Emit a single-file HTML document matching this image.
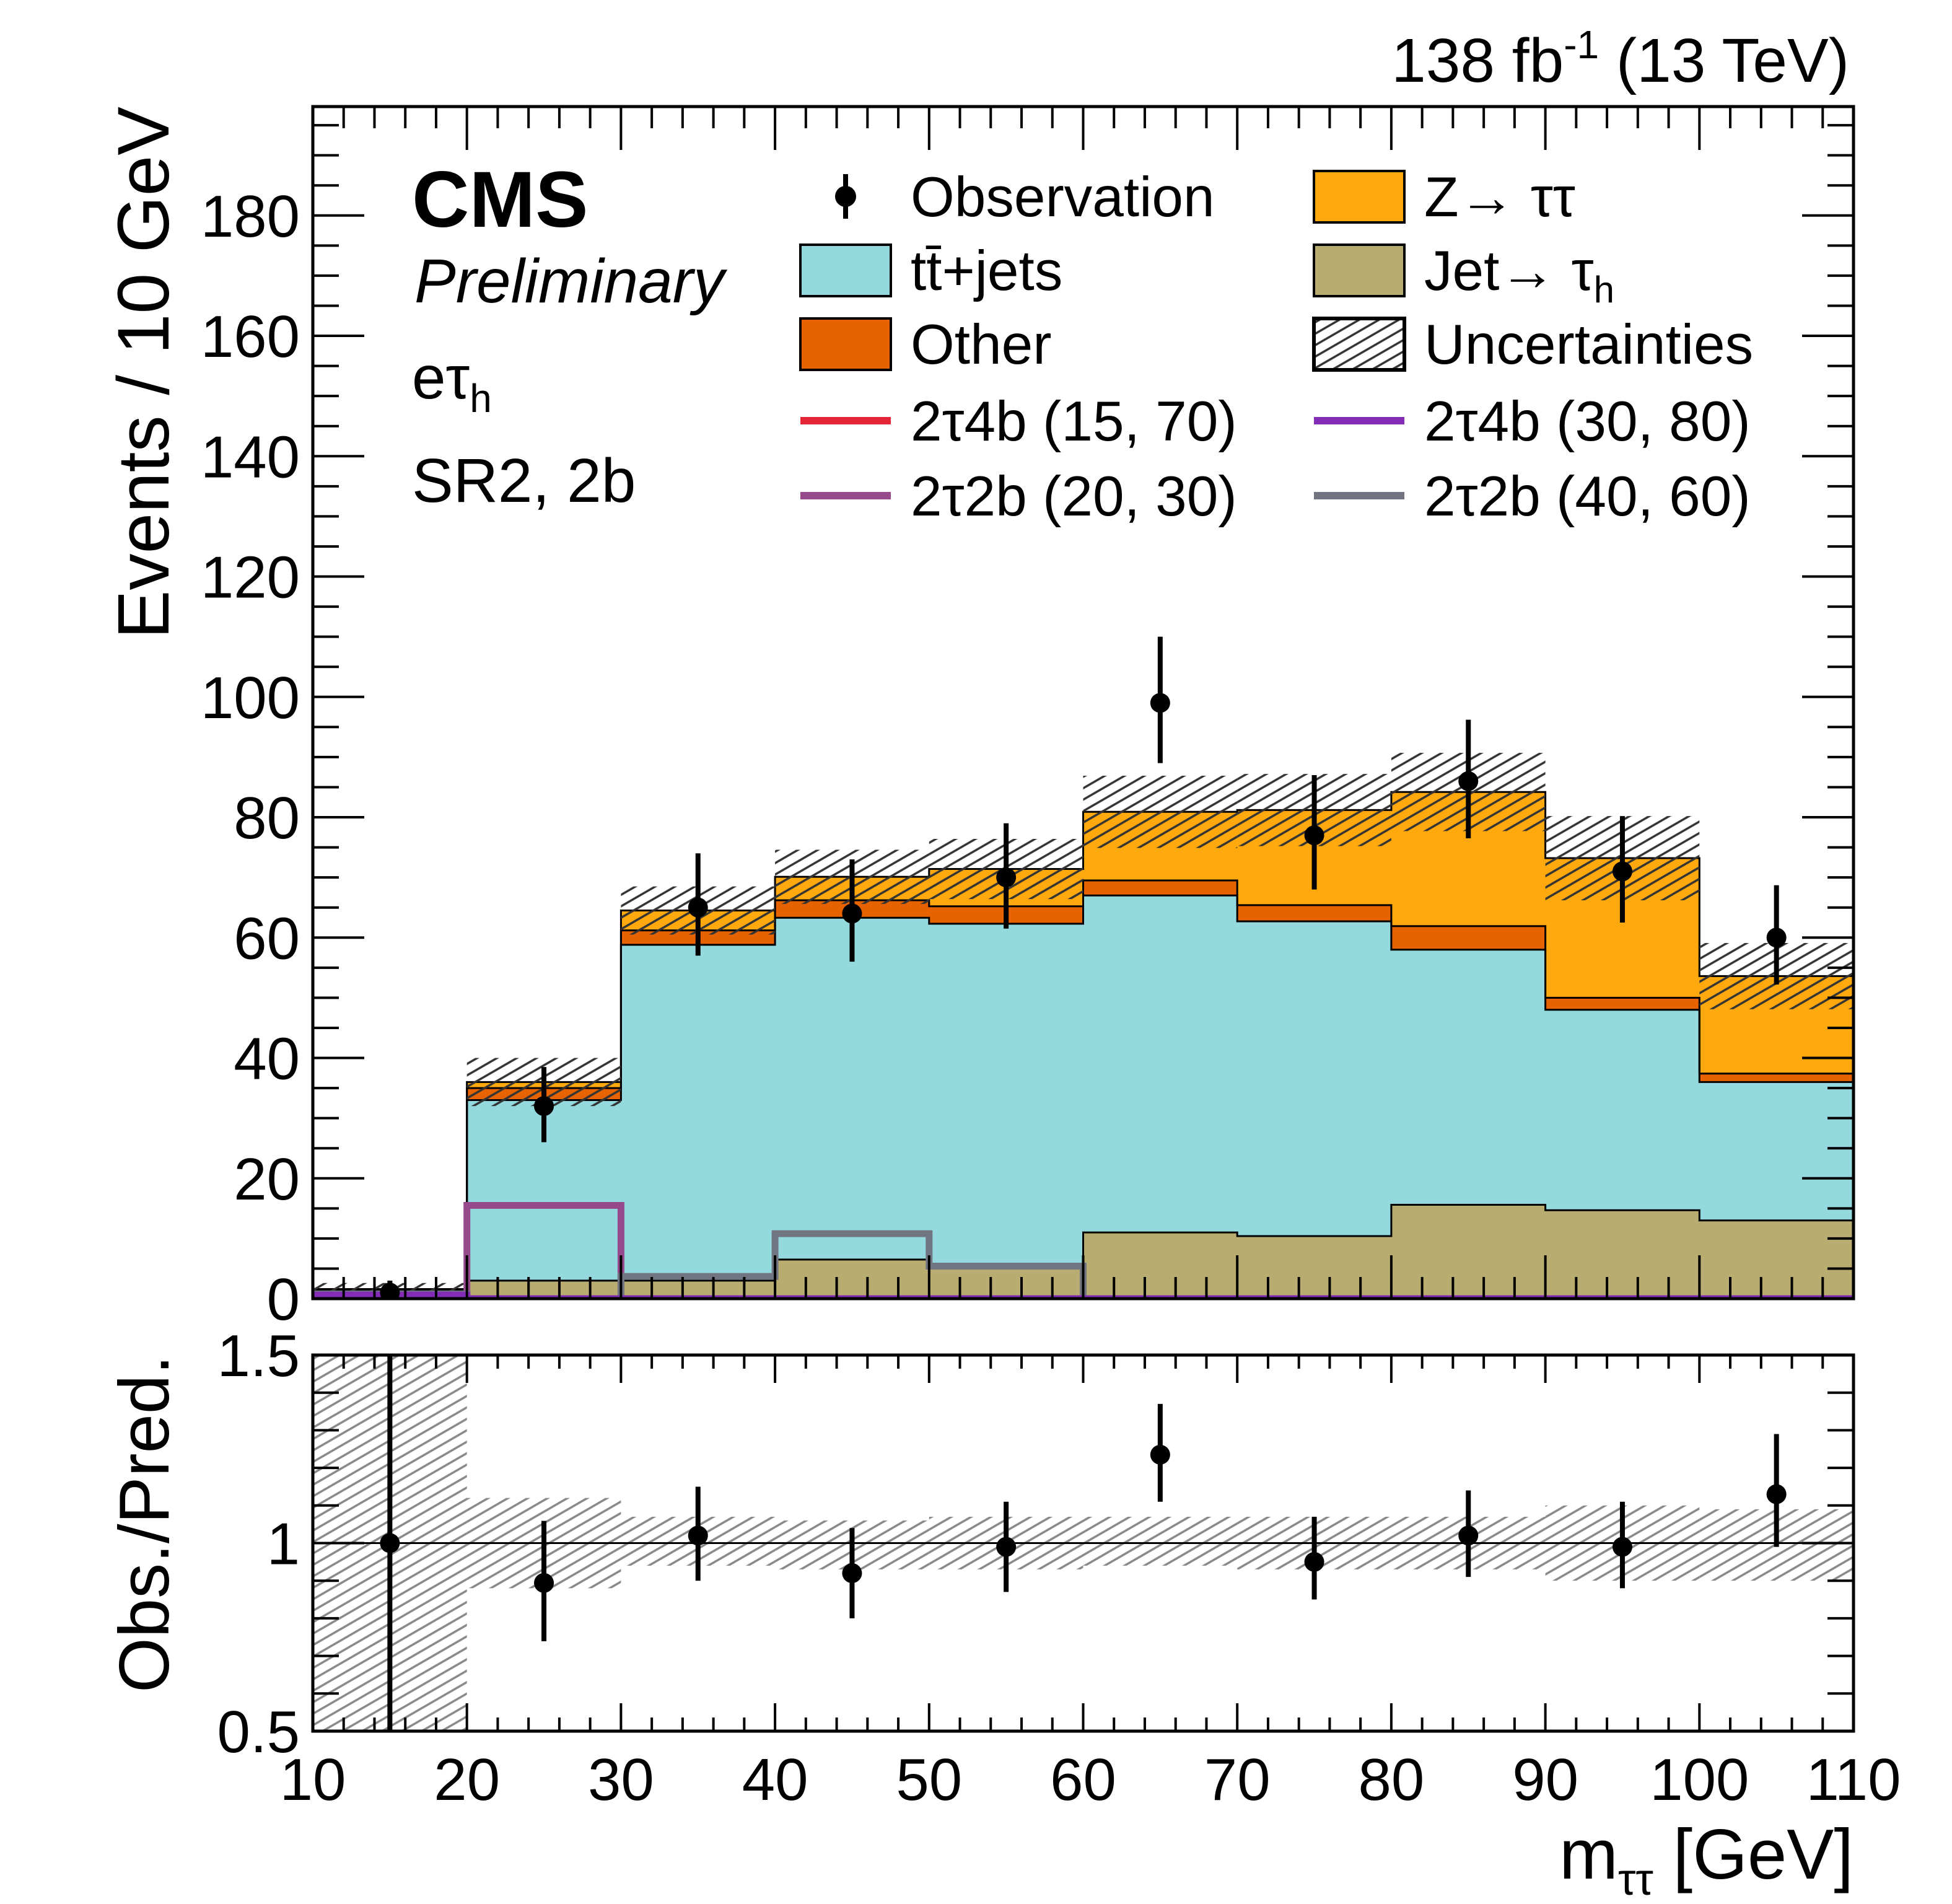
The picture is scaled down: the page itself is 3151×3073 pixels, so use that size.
<!DOCTYPE html>
<html><head><meta charset="utf-8"><style>
html,body{margin:0;padding:0;background:#fff;}
svg{display:block;font-family:"Liberation Sans",sans-serif;}
</style></head><body>
<svg id="chart" width="3151" height="3073" viewBox="0 0 3151 3073" xmlns="http://www.w3.org/2000/svg">
<defs>
<pattern id="hatch" patternUnits="userSpaceOnUse" width="16" height="16" patternTransform="rotate(-30)">
<rect width="16" height="16" fill="none"/><line x1="0" y1="8" x2="16" y2="8" stroke="#333" stroke-width="3.5"/>
</pattern>
<pattern id="hatch2" patternUnits="userSpaceOnUse" width="16" height="16" patternTransform="rotate(-30)">
<line x1="0" y1="8" x2="16" y2="8" stroke="#888" stroke-width="3.5"/>
</pattern>
<clipPath id="mainclip"><rect x="505" y="172" width="2487" height="1924"/></clipPath>
<clipPath id="ratioclip"><rect x="505" y="2187" width="2487" height="607"/></clipPath>
</defs>
<g id="main" clip-path="url(#mainclip)"></g>
<g id="ratio" clip-path="url(#ratioclip)"></g>
<g id="axes"></g>
<text x="2985" y="132" font-size="100" text-anchor="end">138 fb<tspan font-size="64" dy="-38">-1</tspan><tspan dy="38"> (13 TeV)</tspan></text>
<text x="665" y="366" font-size="128" font-weight="bold">CMS</text>
<text x="669" y="488" font-size="100" font-style="italic">Preliminary</text>
<text x="665" y="643" font-size="98">eτ<tspan font-size="64" dy="22">h</tspan></text>
<text x="665" y="810" font-size="100">SR2, 2b</text>
<text transform="translate(272,172) rotate(-90)" font-size="118" text-anchor="end">Events / 10 GeV</text>
<text transform="translate(272,2187) rotate(-90)" font-size="114" text-anchor="end">Obs./Pred.</text>
<text x="2992" y="3032" font-size="114" text-anchor="end">m<tspan font-size="72" dy="26">ττ</tspan><tspan dy="-26"> [GeV]</tspan></text>
<g id="legend"></g>
</svg>
<script>
const binEdges = [10,20,30,40,50,60,70,80,90,100,110];
const jetFake = [0.5,3,3,6.5,5,11,10.4,15.6,14.7,13];
const ttbar = [0.5,30,55.8,56.8,57.3,56,52.3,42.4,33.3,23];
const other = [0.3,2,2.4,2.9,2.9,2.5,2.7,3.9,2,1.4];
const ztt = [0.3,1,3.3,3.9,6.2,11.4,15.8,22.3,23.2,16.2];
const uncert = [1,4,4,4.5,5,6,6,6.5,7,5.5];
const obsVals = [1,32,65,64,70,99,77,86,71,60];
const obsErrLo = [1,6,8,8,8.5,10,9,9.5,8.5,7.8];
const obsErrHi = [2,6.5,9,9,9,11,10,10.2,9.2,8.7];
const sig2t2b2030 = [0,15.5,0,0,0,0,0,0,0,0];
const sig2t2b4060 = [0.8,0,3.7,10.8,5.4,0,0,0,0,0];
const sig2t4b3080 = [0.6,0,0,0,0,0,0,0,0,0];
const sig2t4b1570 = [0,0,0,0,0,0,0,0,0,0];
const ratioVals = [1.0,0.894,1.02,0.92,0.99,1.235,0.95,1.02,0.99,1.13];
const ratioErrLo = [0.5,0.155,0.12,0.12,0.12,0.125,0.1,0.11,0.11,0.14];
const ratioErrHi = [0.5,0.165,0.13,0.12,0.12,0.135,0.12,0.12,0.12,0.16];
const ratioBandLo = [0.5,0.88,0.94,0.93,0.93,0.94,0.93,0.93,0.9,0.9];
const ratioBandHi = [1.5,1.12,1.07,1.06,1.07,1.07,1.07,1.07,1.1,1.09];
const yTicks = [0,20,40,60,80,100,120,140,160,180];
const xTicks = [10,20,30,40,50,60,70,80,90,100,110];
const rTicks = [0.5,1,1.5];
const rTickLabels = ["0.5","1","1.5"];

const NS="http://www.w3.org/2000/svg";
const X0=505,X1=2992,Y0=2096,Y1=172,RY0=2794,RY1=2187;
const YMAX=198.1;
const xs=v=>X0+(v-10)/100*(X1-X0);
const ys=v=>Y0-v/YMAX*(Y0-Y1);
const rs=v=>RY0-(v-0.5)/1.0*(RY0-RY1);
function mk(tag,attrs,parent){const e=document.createElementNS(NS,tag);for(const k in attrs)e.setAttribute(k,attrs[k]);parent.appendChild(e);return e;}
const gMain=document.getElementById('main'),gRatio=document.getElementById('ratio'),gAx=document.getElementById('axes'),gLeg=document.getElementById('legend');

function stepPath(arr){
  let d='M'+xs(binEdges[0])+','+ys(0);
  for(let i=0;i<10;i++){d+=' L'+xs(binEdges[i])+','+ys(arr[i])+' L'+xs(binEdges[i+1])+','+ys(arr[i]);}
  d+=' L'+xs(binEdges[10])+','+ys(0);
  return d;
}
// stacks
const layers=[[jetFake,'#b9ac70','jet-fake'],[ttbar,'#94d9de','ttbar'],[other,'#e76300','other'],[ztt,'#ffa90e','ztautau']];
const cum=new Array(10).fill(0);
const tops=[];
layers.forEach(([arr,col,nm])=>{
  for(let i=0;i<10;i++){
    const lo=cum[i],hi=cum[i]+arr[i];
    const r=mk('rect',{x:xs(binEdges[i]),y:ys(hi),width:xs(binEdges[i+1])-xs(binEdges[i])+0.5,height:ys(lo)-ys(hi),fill:col},gMain);
    
    
    cum[i]=hi;
  }
  tops.push(cum.slice());
});
tops.forEach((t,k)=>{
  const p=mk('path',{d:stepPath(t),fill:'none',stroke:'#000','stroke-width':3},gMain);
  
  
});
// uncertainty band
for(let i=0;i<10;i++){
  const r=mk('rect',{x:xs(binEdges[i]),y:ys(cum[i]+uncert[i]),width:xs(binEdges[i+1])-xs(binEdges[i]),height:ys(cum[i]-uncert[i])-ys(cum[i]+uncert[i]),fill:'url(#hatch)'},gMain);
  
  
}
// signals
function stepLine(arr,col,nm){
  let d='M'+xs(binEdges[0])+','+ys(arr[0]);
  for(let i=0;i<10;i++){d+=' L'+xs(binEdges[i])+','+ys(arr[i])+' L'+xs(binEdges[i+1])+','+ys(arr[i]);}
  const p=mk('path',{d:d,fill:'none',stroke:col,'stroke-width':11},gMain);
  
  
}
stepLine(sig2t4b1570,'#e42536','signal-2t4b-15-70');
stepLine(sig2t2b2030,'#964a8b','signal-2t2b-20-30');
stepLine(sig2t2b4060,'#717581','signal-2t2b-40-60');
stepLine(sig2t4b3080,'#832db6','signal-2t4b-30-80');
// observation
for(let i=0;i<10;i++){
  const cx=xs((binEdges[i]+binEdges[i+1])/2);
  const l=mk('line',{x1:cx,x2:cx,y1:ys(obsVals[i]-obsErrLo[i]),y2:ys(obsVals[i]+obsErrHi[i]),stroke:'#000','stroke-width':8},gMain);
  
  
  const c=mk('circle',{cx:cx,cy:ys(obsVals[i]),r:16,fill:'#000'},gMain);
  
  
}
// ratio
for(let i=0;i<10;i++){
  const r=mk('rect',{x:xs(binEdges[i]),y:rs(ratioBandHi[i]),width:xs(binEdges[i+1])-xs(binEdges[i]),height:rs(ratioBandLo[i])-rs(ratioBandHi[i]),fill:'url(#hatch2)'},gRatio);
  
  
}
const ref=mk('line',{x1:X0,x2:X1,y1:rs(1),y2:rs(1),stroke:'#000','stroke-width':3},gRatio);


for(let i=0;i<10;i++){
  const cx=xs((binEdges[i]+binEdges[i+1])/2);
  const l=mk('line',{x1:cx,x2:cx,y1:rs(ratioVals[i]-ratioErrLo[i]),y2:rs(ratioVals[i]+ratioErrHi[i]),stroke:'#000','stroke-width':8},gRatio);
  
  
  const c=mk('circle',{cx:cx,cy:rs(ratioVals[i]),r:16,fill:'#000'},gRatio);
  
  
}
// frames
[[Y1,Y0,'main-frame'],[RY1,RY0,'ratio-frame']].forEach(([t,b,nm])=>{
  const r=mk('rect',{x:X0,y:t,width:X1-X0,height:b-t,fill:'none',stroke:'#000','stroke-width':5},gAx);
  
  
});
// ticks
function tick(x1,y1,x2,y2){mk('line',{x1,y1,x2,y2,stroke:'#000','stroke-width':4},gAx);}
for(let v=10;v<=110;v+=2){
  const x=xs(v),maj=(v%10===0);
  tick(x,Y0,x,Y0-(maj?70:35));tick(x,Y1,x,Y1+(maj?70:35));
  tick(x,RY0,x,RY0-(maj?45:22));tick(x,RY1,x,RY1+(maj?45:22));
}
for(let v=0;v<=195;v+=5){
  const y=ys(v),maj=(v%20===0);
  tick(X0,y,X0+(maj?83:42),y);tick(X1,y,X1-(maj?83:42),y);
}
for(let k=5;k<=15;k++){
  const v=k/10,y=rs(v),maj=(k%5===0);
  tick(X0,y,X0+(maj?83:42),y);tick(X1,y,X1-(maj?83:42),y);
}
yTicks.forEach(v=>{const t=mk('text',{x:484,y:ys(v)+34,'font-size':96,'text-anchor':'end'},gAx);t.textContent=v;
  
  });
rTicks.forEach((v,i)=>{const t=mk('text',{x:484,y:rs(v)+34,'font-size':96,'text-anchor':'end'},gAx);t.textContent=rTickLabels[i];
  
  });
xTicks.forEach(v=>{const t=mk('text',{x:xs(v),y:2905,'font-size':96,'text-anchor':'middle'},gAx);t.textContent=v;
  
  });
// legend
const legItems=[
 ['obs',1365,317,'Observation'],['box',1365,436,'tt̄+jets','#94d9de'],['box',1365,555,'Other','#e76300'],
 ['line',1365,679,'2τ4b (15, 70)','#e42536'],['line',1365,800,'2τ2b (20, 30)','#964a8b'],
 ['box',2194,317,'Z→ ττ','#ffa90e'],['box',2194,436,'Jet→ τ','#b9ac70','h'],['hatch',2194,555,'Uncertainties'],
 ['line',2194,679,'2τ4b (30, 80)','#832db6'],['line',2194,800,'2τ2b (40, 60)','#717581']];
legItems.forEach(it=>{
  const [type,cx,cy,label,col,sub]=it;
  const g=mk('g',{},gLeg);
  
  
  if(type==='obs'){mk('line',{x1:cx,x2:cx,y1:cy-36,y2:cy+36,stroke:'#000','stroke-width':8},g);mk('circle',{cx:cx,cy:cy,r:17,fill:'#000'},g);}
  else if(type==='box'){mk('rect',{x:cx-73,y:cy-41,width:146,height:83,fill:col,stroke:'#000','stroke-width':4},g);}
  else if(type==='hatch'){mk('rect',{x:cx-73,y:cy-41,width:146,height:83,fill:'url(#hatch)',stroke:'#000','stroke-width':6},g);}
  else {mk('line',{x1:cx-73,x2:cx+73,y1:cy,y2:cy,stroke:col,'stroke-width':12},g);}
  const t=mk('text',{x:cx+105,y:cy+32,'font-size':91},g);
  t.textContent=label;
  if(sub){const s=mk('tspan',{'font-size':60,dy:20},t);s.textContent=sub;}
});
</script>
</body></html>
